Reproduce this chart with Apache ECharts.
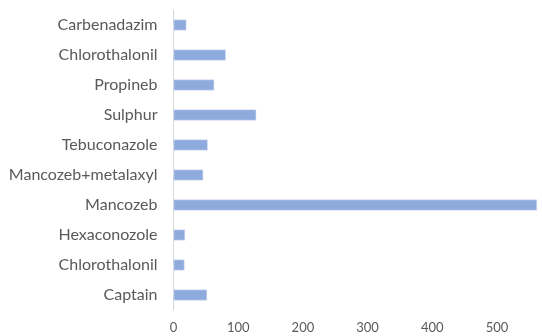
<!DOCTYPE html>
<html><head><meta charset="utf-8">
<script src="https://cdn.jsdelivr.net/npm/echarts@6/dist/echarts.min.js"></script>
<style>html,body{margin:0;padding:0;background:#fff}#c{width:542px;height:336px}</style>
</head><body><div id="c"></div>
<script>
var categories = ['Captain','Chlorothalonil','Hexaconozole','Mancozeb','Mancozeb+metalaxyl','Tebuconazole','Sulphur','Propineb','Chlorothalonil','Carbenadazim'];
var values = [52, 17, 18, 562, 46, 53, 128, 63, 81, 20];
var xTicks = [0, 100, 200, 300, 400, 500];
var chart = echarts.init(document.getElementById('c'), null, {renderer:'canvas'});
chart.setOption({
  animation:false,
  grid:{left:173.5, top:10, width:363.6, height:300, containLabel:false},
  xAxis:{type:'value', min:0, max:562, interval:100,
    axisLine:{show:false}, axisTick:{show:false}, splitLine:{show:false},
    axisLabel:{color:'#595959', fontFamily:'Lato', fontSize:13, margin:11, showMaxLabel:false,
      formatter:function(v){return xTicks.indexOf(v)>=0?String(v):'';}}},
  yAxis:{type:'category', data:categories.map(function(c,i){return {value:i+'|'+c};}),
    axisLine:{show:true, lineStyle:{color:'#d9d9d9', width:1}}, axisTick:{show:false},
    axisLabel:{color:'#595959', fontFamily:'Lato', fontSize:16, margin:16,
      formatter:function(v){return v.split('|')[1];}}},
  series:[{type:'bar', data:values, barWidth:11,
    itemStyle:{color:'#8faadc', borderColor:'#dbe4f4', borderWidth:0.6}}]
});
</script></body></html>
